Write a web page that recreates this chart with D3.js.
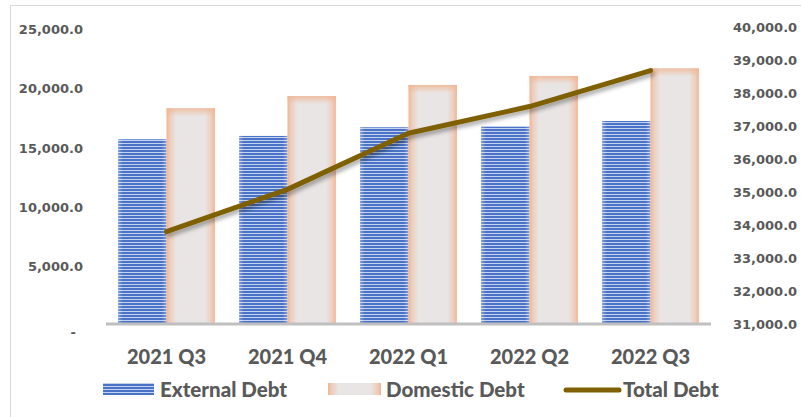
<!DOCTYPE html>
<html>
<head>
<meta charset="utf-8">
<script src="https://cdn.jsdelivr.net/npm/d3@7/dist/d3.min.js"></script>
<style>
  body { margin: 0; background: #fff; }
  svg { display: block; }
  .tick text { fill: #595959; font-family: "DejaVu Sans"; font-weight: bold; font-size: 13px; }
  .cat text { font-family: Lato; font-weight: 900; font-size: 20px; fill: #595959; }
  .legend text { font-family: Lato; font-weight: 900; font-size: 20.5px; fill: #595959; }
</style>
</head>
<body>
<div id="chart"></div>
<script>
// data
var quarters = ["2021 Q3", "2021 Q4", "2022 Q1", "2022 Q2", "2022 Q3"];
var externalDebt = [15550, 15830, 16560, 16610, 17090];
var domesticDebt = [18160, 19190, 20120, 20880, 21520];
var totalDebt = [33800, 35080, 36780, 37590, 38680];
var leftTicks = [0, 5000, 10000, 15000, 20000, 25000];
var rightTicks = [31000, 32000, 33000, 34000, 35000, 36000, 37000, 38000, 39000, 40000];
var seriesNames = ["External Debt", "Domestic Debt", "Total Debt"];

var width = 801, height = 417;

var svg = d3.select("#chart").append("svg")
	.attr("width", width)
	.attr("height", height);

svg.append("rect")
	.attr("x", 10.5).attr("y", 5.5)
	.attr("width", 800).attr("height", 420)
	.style("fill", "#fff")
	.style("stroke", "#D9D9D9");

var defs = svg.append("defs");

// blue stripes
var pat = defs.append("pattern")
	.attr("id", "stripes")
	.attr("patternUnits", "userSpaceOnUse")
	.attr("width", 10).attr("height", 3);
pat.append("rect").attr("width", 10).attr("height", 3).style("fill", "#C3D2EE");
pat.append("rect").attr("width", 10).attr("height", 2).style("fill", "#4A72C6");

var blueEdge = defs.append("linearGradient").attr("id", "blueEdge");
[[0, 0.3], [0.1, 0], [0.9, 0], [1, 0.3]].forEach(function(s){
	blueEdge.append("stop").attr("offset", s[0]).attr("stop-color", "#fff").attr("stop-opacity", s[1]);
});

// orange glow
var orange = defs.append("linearGradient").attr("id", "orangeH");
[[0, "#F0B592"], [0.07, "#EECDBC"], [0.2, "#E8E5E4"], [0.8, "#E8E5E4"], [0.93, "#EECDBC"], [1, "#F0B592"]].forEach(function(s){
	orange.append("stop").attr("offset", s[0]).attr("stop-color", s[1]);
});
var orangeV = defs.append("linearGradient").attr("id", "orangeV")
	.attr("x1", 0).attr("y1", 0).attr("x2", 0).attr("y2", 1);
orangeV.append("stop").attr("offset", 0).attr("stop-color", "#F0B592").attr("stop-opacity", 0.8);
orangeV.append("stop").attr("offset", 1).attr("stop-color", "#F0B592").attr("stop-opacity", 0);

var shadow = defs.append("filter").attr("id", "shadow")
	.attr("x", "-10%").attr("y", "-30%").attr("width", "120%").attr("height", "160%");
shadow.append("feDropShadow")
	.attr("dx", 2).attr("dy", 3).attr("stdDeviation", 2)
	.attr("flood-color", "#000").attr("flood-opacity", 0.35);

var x = d3.scaleBand().domain(quarters).range([106, 711]).paddingInner(0.2).paddingOuter(0.1);
var x1 = d3.scaleBand().domain([0, 1]).range([0, x.bandwidth()]);
var yL = d3.scaleLinear().domain([0, 25000]).range([324, 27]);
var yR = d3.scaleLinear().domain([31000, 40000]).range([324, 27]);

var fmt = d3.format(",.1f");

// left axis
var gl = svg.append("g")
	.attr("transform", "translate(86,0)")
	.call(d3.axisLeft(yL).tickValues(leftTicks).tickSize(0).tickPadding(3)
		.tickFormat(function(d){ return d == 0 ? "-" : fmt(d); }));
gl.select(".domain").remove();
gl.selectAll(".tick text").attr("dy", "0.48em");
gl.selectAll(".tick text").filter(function(d){ return d == 0; })
	.attr("dy", "0.98em").attr("x", -10);

// right axis
var gr = svg.append("g")
	.attr("transform", "translate(730,0)")
	.call(d3.axisRight(yR).tickValues(rightTicks).tickSize(0).tickPadding(3).tickFormat(fmt));
gr.select(".domain").remove();
gr.selectAll(".tick text").attr("dy", "0.34em");

// bars
var groups = svg.selectAll(".grp")
	.data(quarters).enter()
	.append("g")
	.attr("class", "grp")
	.attr("transform", function(d){ return "translate(" + x(d) + ",0)"; });

groups.append("rect")
	.attr("x", x1(0))
	.attr("y", function(d, i){ return yL(externalDebt[i]); })
	.attr("width", x1.bandwidth())
	.attr("height", function(d, i){ return yL(0) - yL(externalDebt[i]); })
	.style("fill", "url(#stripes)");
groups.append("rect")
	.attr("x", x1(0))
	.attr("y", function(d, i){ return yL(externalDebt[i]); })
	.attr("width", x1.bandwidth())
	.attr("height", function(d, i){ return yL(0) - yL(externalDebt[i]); })
	.style("fill", "url(#blueEdge)");

groups.append("rect")
	.attr("x", x1(1))
	.attr("y", function(d, i){ return yL(domesticDebt[i]); })
	.attr("width", x1.bandwidth())
	.attr("height", function(d, i){ return yL(0) - yL(domesticDebt[i]); })
	.style("fill", "url(#orangeH)");
groups.append("rect")
	.attr("x", x1(1))
	.attr("y", function(d, i){ return yL(domesticDebt[i]); })
	.attr("width", x1.bandwidth())
	.attr("height", 8)
	.style("fill", "url(#orangeV)");

// category axis line
svg.append("line")
	.attr("x1", 106).attr("x2", 711)
	.attr("y1", yL(0)).attr("y2", yL(0))
	.style("stroke", "#BFBFBF")
	.style("stroke-width", 3);

var gc = svg.append("g")
	.attr("class", "cat")
	.attr("transform", "translate(0," + yL(0) + ")")
	.call(d3.axisBottom(x).tickSize(0).tickPadding(26));
gc.select(".domain").remove();
gc.selectAll("text").attr("dy", "0.7em")
	.style("font-family", "Lato").style("font-weight", "900").style("font-size", "20px").style("fill", "#595959");

// total line
var line = d3.line()
	.x(function(d, i){ return x(quarters[i]) + x.bandwidth() / 2; })
	.y(function(d){ return yR(d); });

svg.append("path")
	.datum(totalDebt)
	.attr("d", line)
	.style("fill", "none")
	.style("stroke", "#7F6000")
	.style("stroke-width", 5)
	.style("stroke-linecap", "round")
	.style("stroke-linejoin", "round")
	.attr("filter", "url(#shadow)");

// legend
var leg = svg.append("g").attr("class", "legend");
leg.append("rect").attr("x", 103).attr("y", 383).attr("width", 51).attr("height", 12).style("fill", "url(#stripes)");
leg.append("text").attr("x", 160).attr("y", 397).text(seriesNames[0]);
leg.append("rect").attr("x", 328).attr("y", 383).attr("width", 53).attr("height", 12).style("fill", "url(#orangeH)");
leg.append("text").attr("x", 386).attr("y", 397).text(seriesNames[1]);
leg.append("line").attr("x1", 566).attr("x2", 619).attr("y1", 390).attr("y2", 390)
	.style("stroke", "#7F6000").style("stroke-width", 5).style("stroke-linecap", "round");
leg.append("text").attr("x", 623).attr("y", 397).text(seriesNames[2]);
</script>
</body>
</html>
